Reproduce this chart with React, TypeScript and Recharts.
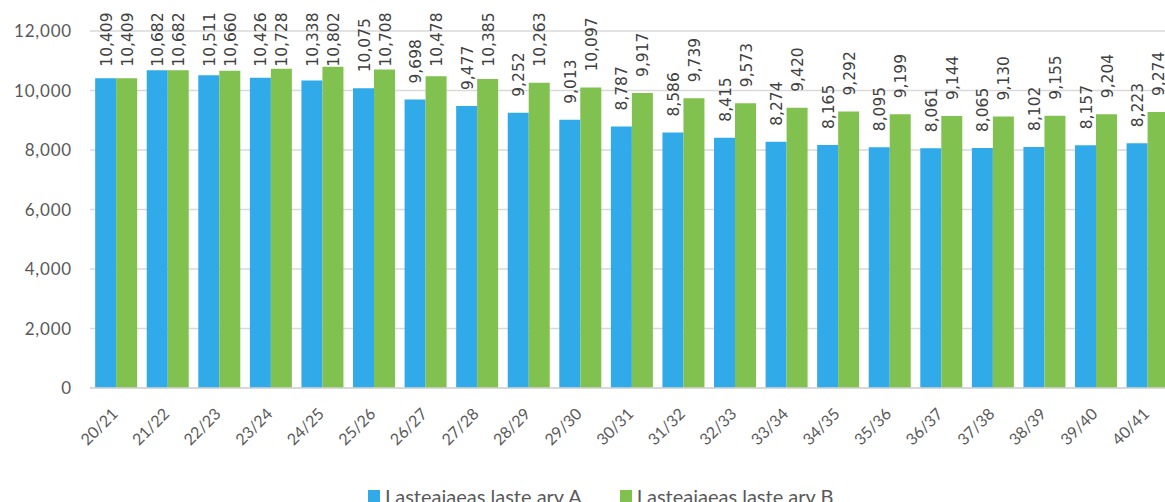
import React from 'react';
import { BarChart, Bar, XAxis, YAxis, CartesianGrid, Legend, LabelList } from 'recharts';

const seasons = [
  '20/21', '21/22', '22/23', '23/24', '24/25', '25/26', '26/27', '27/28', '28/29', '29/30',
  '30/31', '31/32', '32/33', '33/34', '34/35', '35/36', '36/37', '37/38', '38/39', '39/40', '40/41',
];
const arvA = [
  10409, 10682, 10511, 10426, 10338, 10075, 9698, 9477, 9252, 9013,
  8787, 8586, 8415, 8274, 8165, 8095, 8061, 8065, 8102, 8157, 8223,
];
const arvB = [
  10409, 10682, 10660, 10728, 10802, 10708, 10478, 10385, 10263, 10097,
  9917, 9739, 9573, 9420, 9292, 9199, 9144, 9130, 9155, 9204, 9274,
];
const yTicks = [0, 2000, 4000, 6000, 8000, 10000, 12000];
const seriesNames = ['Lasteaiaeas laste arv A', 'Lasteaiaeas laste arv B'];

const BLUE = '#30AAE9';
const GREEN = '#80C14F';

const rows = seasons.map((s, i) => ({ season: s, a: arvA[i], b: arvB[i] }));

const fmt = (v: number) => v.toLocaleString('en-US');

const LABEL_FS = 15.5;

function BarValue(props: any) {
  const { x, y, width, value } = props;
  const txt = fmt(Number(value));
  const cx = Number(x) + Number(width) / 2 + 6;
  const digits = txt.replace(/,/g, '').length;
  const commas = txt.length - digits;
  const len = LABEL_FS * (digits * 0.636 + commas * 0.318);
  let y0 = Number(y) - 16;
  // keep labels inside the chart top like the original
  if (y0 - len < 12.5) y0 = 12.5 + len;
  return (
    <text
      x={cx}
      y={y0}
      transform={`rotate(-90 ${cx} ${y0})`}
      textAnchor="start"
      fontFamily="DejaVu Sans"
      fontSize={LABEL_FS}
      fill="#404040"
    >
      {txt}
    </text>
  );
}

function SeasonTick(props: any) {
  const { x, y, payload } = props;
  return (
    <g transform={`translate(${x + 3},${y + 19})`}>
      <text transform="rotate(-45)" textAnchor="end" fontFamily="Lato" fontSize={16} fill="#595959">
        {payload.value}
      </text>
    </g>
  );
}

function LegendBox() {
  const colors = [BLUE, GREEN];
  return (
    <div
      style={{
        display: 'flex',
        alignItems: 'center',
        height: 24,
        paddingLeft: 368,
        fontFamily: 'Lato',
        fontSize: 20,
        color: '#595959',
      }}
    >
      {seriesNames.map((n, i) => (
        <div key={n} style={{ display: 'flex', alignItems: 'center', marginLeft: i ? 38 : 0 }}>
          <span style={{ width: 12, height: 12, background: colors[i], marginRight: 5, display: 'inline-block' }} />
          <span style={{ whiteSpace: 'nowrap' }}>{n}</span>
        </div>
      ))}
    </div>
  );
}

export default function App() {
  return (
    <div style={{ position: 'fixed', left: 0, top: 0, width: 1165, height: 502, overflow: 'hidden', background: '#fff' }}>
      <BarChart
        width={1173}
        height={520}
        data={rows}
        margin={{ top: 31, right: 0, left: 0, bottom: 12 }}
        barCategoryGap="10%"
        barGap={0}
      >
        <CartesianGrid vertical={false} stroke="#d9d9d9" strokeWidth={1.3} />
        <XAxis
          dataKey="season"
          interval={0}
          height={96}
          tickLine={false}
          axisLine={{ stroke: '#d4d4d4', strokeWidth: 1.6 }}
          tick={<SeasonTick />}
        />
        <YAxis
          width={90}
          domain={[0, 12000]}
          ticks={yTicks}
          tickFormatter={fmt}
          tickLine={false}
          axisLine={false}
          tickMargin={12}
          tick={{ fill: '#595959', fontSize: 17, fontFamily: 'Lato', letterSpacing: 0.8 }}
        />
        <Legend verticalAlign="bottom" height={24} content={<LegendBox />} />
        <Bar dataKey="a" name={seriesNames[0]} fill={BLUE} isAnimationActive={false}>
          <LabelList dataKey="a" content={<BarValue />} />
        </Bar>
        <Bar dataKey="b" name={seriesNames[1]} fill={GREEN} isAnimationActive={false}>
          <LabelList dataKey="b" content={<BarValue />} />
        </Bar>
      </BarChart>
    </div>
  );
}
